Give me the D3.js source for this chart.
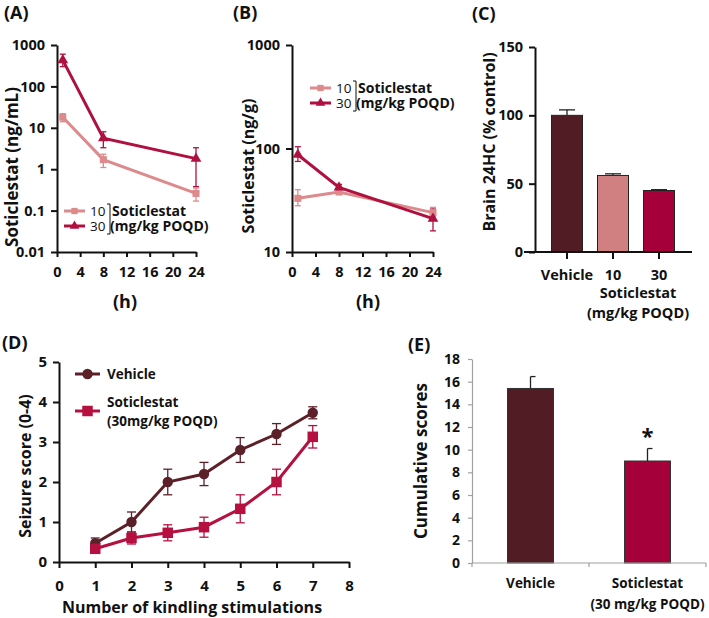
<!DOCTYPE html>
<html>
<head>
<meta charset="utf-8">
<script src="https://cdn.jsdelivr.net/npm/d3@7"></script>
<style>
body { margin: 0; background: #fff; }
text { font-family: "Open Sans", sans-serif; font-weight: bold; fill: #111; }
</style>
</head>
<body>
<svg id="fig" width="709" height="618"></svg>
<script>
// ---- data ----
var pkHours = [1, 8, 24];

// (A) plasma, ng/mL
var plasma10 = [18, 1.7, 0.26];
var plasma10Lo = [14, 1.1, 0.17];
var plasma10Hi = [22, 2.3, 0.35];
var plasma30 = [430, 5.6, 1.8];
var plasma30Lo = [300, 3.3, 0.38];
var plasma30Hi = [600, 8.0, 3.3];

// (B) brain, ng/g
var brain10 = [33, 38, 24];
var brain10Lo = [28, 36, 22];
var brain10Hi = [40, 40, 27];
var brain30 = [87, 42, 21];
var brain30Lo = [75, 40, 16];
var brain30Hi = [104, 45, 26];

// (C) brain 24HC
var hcGroups = ["Vehicle", "10", "30"];
var hcValues = [100, 56, 45];
var hcErr = [4, 1.2, 0.6];

// (D) kindling
var stimNumber = [1, 2, 3, 4, 5, 6, 7];
var vehScore = [0.47, 1.0, 2.0, 2.2, 2.8, 3.2, 3.73];
var vehErr = [0.13, 0.25, 0.32, 0.29, 0.31, 0.26, 0.15];
var sotScore = [0.33, 0.6, 0.73, 0.87, 1.33, 2.0, 3.13];
var sotErr = [0.1, 0.15, 0.2, 0.25, 0.35, 0.32, 0.28];

// (E) cumulative
var cumGroups = ["Vehicle", "Soticlestat"];
var cumValues = [15.4, 9.0];
var cumErr = [1.05, 1.1];

var logTicksA = [0.01, 0.1, 1, 10, 100, 1000];
var logTicksB = [10, 100, 1000];
var hourTicks = [0, 4, 8, 12, 16, 20, 24];

var colPink = "#dc8a8c";
var colRed = "#b0103f";
var colMaroon = "#521c24";
var colBarPink = "#d08080";
var colBarRed = "#a5003a";

var svg = d3.select("#fig");

function fmtLog(d) {
    return String(d);
}

function styleAxis(g, width, size, color) {
    g.select(".domain").attr("stroke", color).attr("stroke-width", width);
    g.selectAll(".tick line").attr("stroke", color).attr("stroke-width", width);
    g.selectAll(".tick text").attr("fill", "#111").style("font-size", size + "px")
        .attr("font-family", null);
}

function addText(x, y, str, size, opts) {
    opts = opts || {};
    var t = svg.append("text")
        .attr("x", x).attr("y", y)
        .attr("dy", "0.35em")
        .attr("text-anchor", opts.anchor || "start")
        .style("font-size", size + "px")
        .text(str);
    if (opts.rotate) {
        t.attr("transform", "rotate(-90," + x + "," + y + ")");
    }
    if (opts.normal) {
        t.style("font-weight", "normal");
    }
    return t;
}

function errorBars(g, xs, lo, hi, x, y, color, cap) {
    xs.forEach(function(xv, i) {
        var cx = x(xv);
        g.append("line").attr("x1", cx).attr("x2", cx)
            .attr("y1", y(lo[i])).attr("y2", y(hi[i]))
            .attr("stroke", color).attr("stroke-width", 1.3);
        [lo[i], hi[i]].forEach(function(v) {
            g.append("line").attr("x1", cx - cap).attr("x2", cx + cap)
                .attr("y1", y(v)).attr("y2", y(v))
                .attr("stroke", color).attr("stroke-width", 1.3);
        });
    });
}

function series(g, xs, vals, x, y, color, symbolType, symbolSize, lw) {
    var line = d3.line()
        .x(function(d, i) { return x(xs[i]); })
        .y(function(d) { return y(d); });
    g.append("path").datum(vals)
        .attr("d", line)
        .attr("fill", "none")
        .attr("stroke", color)
        .attr("stroke-width", lw);
    g.selectAll(null).data(vals).enter()
        .append("path")
        .attr("d", d3.symbol().type(symbolType).size(symbolSize))
        .attr("transform", function(d, i) {
            return "translate(" + x(xs[i]) + "," + y(d) + ")";
        })
        .attr("fill", color);
}

function legendRow(x0, x1, y, color, symbolType, symbolSize, lw) {
    svg.append("line").attr("x1", x0).attr("x2", x1)
        .attr("y1", y).attr("y2", y)
        .attr("stroke", color).attr("stroke-width", lw);
    svg.append("path")
        .attr("d", d3.symbol().type(symbolType).size(symbolSize))
        .attr("transform", "translate(" + (x0 + x1) / 2 + "," + y + ")")
        .attr("fill", color);
}

function doseLegend(x0, y0) {
    // two rows, dose numbers and bracket
    var dy = 15;
    legendRow(x0, x0 + 21, y0, colPink, d3.symbolSquare, 40, 3);
    legendRow(x0, x0 + 21, y0 + dy, colRed, d3.symbolTriangle, 40, 3);
    addText(x0 + 26, y0, "10", 13.5, {normal: true});
    addText(x0 + 26, y0 + dy, "30", 13.5, {normal: true});
    var bx = x0 + 43;
    svg.append("path")
        .attr("d", "M" + bx + "," + (y0 - 7) + "H" + (bx + 3) + "V" + (y0 + dy + 8) + "H" + bx)
        .attr("fill", "none").attr("stroke", "#111").attr("stroke-width", 1);
    addText(bx + 5, y0, "Soticlestat", 14);
    addText(bx + 3, y0 + dy, "(mg/kg POQD)", 14);
}

// ---- (A) ----
(function() {
    var x = d3.scaleLinear().domain([0, 24]).range([57, 196]);
    var y = d3.scaleLog().domain([0.01, 1000]).range([252, 45]);
    var g = svg.append("g");
    g.append("g").attr("transform", "translate(57,0)")
        .call(d3.axisLeft(y).tickValues(logTicksA).tickFormat(fmtLog)
            .tickSize(6).tickSizeOuter(0).tickPadding(6))
        .call(styleAxis, 2, 14.5, "#111");
    g.append("g").attr("transform", "translate(0,252)")
        .call(d3.axisBottom(x).tickValues(hourTicks).tickSize(5)
            .tickSizeOuter(0).tickPadding(10))
        .call(styleAxis, 2, 14.5, "#111");
    errorBars(g, pkHours, plasma10Lo, plasma10Hi, x, y, colPink, 3);
    errorBars(g, pkHours, plasma30Lo, plasma30Hi, x, y, colRed, 3);
    series(g, pkHours, plasma10, x, y, colPink, d3.symbolSquare, 50, 3);
    series(g, pkHours, plasma30, x, y, colRed, d3.symbolTriangle, 50, 3);
    doseLegend(64, 211);
    addText(4, 13, "(A)", 18);
    addText(12, 167, "Soticlestat (ng/mL)", 17, {rotate: true, anchor: "middle"});
    addText(125, 302, "(h)", 18, {anchor: "middle"});
})();

// ---- (B) ----
(function() {
    var x = d3.scaleLinear().domain([0, 24]).range([292, 433]);
    var y = d3.scaleLog().domain([10, 1000]).range([252, 45]);
    var g = svg.append("g");
    g.append("g").attr("transform", "translate(292,0)")
        .call(d3.axisLeft(y).tickValues(logTicksB).tickFormat(fmtLog)
            .tickSize(6).tickSizeOuter(0).tickPadding(6))
        .call(styleAxis, 2, 14.5, "#111");
    g.append("g").attr("transform", "translate(0,252)")
        .call(d3.axisBottom(x).tickValues(hourTicks).tickSize(5)
            .tickSizeOuter(0).tickPadding(10))
        .call(styleAxis, 2, 14.5, "#111");
    errorBars(g, pkHours, brain10Lo, brain10Hi, x, y, colPink, 3);
    errorBars(g, pkHours, brain30Lo, brain30Hi, x, y, colRed, 3);
    series(g, pkHours, brain10, x, y, colPink, d3.symbolSquare, 50, 3);
    series(g, pkHours, brain30, x, y, colRed, d3.symbolTriangle, 50, 3);
    doseLegend(310, 88);
    addText(233, 13, "(B)", 18);
    addText(248, 166, "Soticlestat (ng/g)", 16, {rotate: true, anchor: "middle"});
    addText(368, 302, "(h)", 18, {anchor: "middle"});
})();

// ---- (C) ----
(function() {
    var x = d3.scaleBand().domain(hcGroups).range([544, 682]);
    var y = d3.scaleLinear().domain([0, 150]).range([252, 47]);
    var g = svg.append("g");
    var barW = 31;
    var colors = [colMaroon, colBarPink, colBarRed];
    g.selectAll(null).data(hcValues).enter().append("rect")
        .attr("x", function(d, i) { return x(hcGroups[i]) + x.bandwidth() / 2 - barW / 2; })
        .attr("y", function(d) { return y(d); })
        .attr("width", barW)
        .attr("height", function(d) { return y(0) - y(d); })
        .attr("fill", function(d, i) { return colors[i]; })
        .attr("stroke", "#222").attr("stroke-width", 1);
    hcValues.forEach(function(v, i) {
        var cx = x(hcGroups[i]) + x.bandwidth() / 2;
        g.append("line").attr("x1", cx).attr("x2", cx)
            .attr("y1", y(v)).attr("y2", y(v + hcErr[i]))
            .attr("stroke", "#222").attr("stroke-width", 1.3);
        g.append("line").attr("x1", cx - 8).attr("x2", cx + 8)
            .attr("y1", y(v + hcErr[i])).attr("y2", y(v + hcErr[i]))
            .attr("stroke", "#222").attr("stroke-width", 1.3);
    });
    g.append("g").attr("transform", "translate(535,0)")
        .call(d3.axisLeft(y).tickValues([0, 50, 100, 150]).tickSize(6)
            .tickSizeOuter(0).tickPadding(6))
        .call(styleAxis, 2, 14.5, "#111");
    g.append("line").attr("x1", 524).attr("x2", 692)
        .attr("y1", 252).attr("y2", 252)
        .attr("stroke", "#111").attr("stroke-width", 2);
    hcGroups.forEach(function(c) {
        var cx = x(c) + x.bandwidth() / 2;
        g.append("line").attr("x1", cx).attr("x2", cx)
            .attr("y1", 252).attr("y2", 259)
            .attr("stroke", "#111").attr("stroke-width", 2);
        addText(cx, 275, c, 14.5, {anchor: "middle"});
    });
    addText(638, 293, "Soticlestat", 14.5, {anchor: "middle"});
    addText(638, 313, "(mg/kg POQD)", 14.5, {anchor: "middle"});
    addText(472, 14, "(C)", 18);
    addText(489, 142, "Brain 24HC (% control)", 16, {rotate: true, anchor: "middle"});
})();

// ---- (D) ----
(function() {
    var x = d3.scaleLinear().domain([0, 8]).range([59, 349]);
    var y = d3.scaleLinear().domain([0, 5]).range([562, 362]);
    var g = svg.append("g");
    g.append("g").attr("transform", "translate(59,0)")
        .call(d3.axisLeft(y).ticks(5).tickSize(6).tickSizeOuter(0).tickPadding(6))
        .call(styleAxis, 2, 15, "#111");
    g.append("g").attr("transform", "translate(0,562)")
        .call(d3.axisBottom(x).ticks(8).tickSize(6).tickSizeOuter(0).tickPadding(12))
        .call(styleAxis, 2, 15, "#111");
    var vLo = vehScore.map(function(v, i) { return v - vehErr[i]; });
    var vHi = vehScore.map(function(v, i) { return v + vehErr[i]; });
    var sLo = sotScore.map(function(v, i) { return v - sotErr[i]; });
    var sHi = sotScore.map(function(v, i) { return v + sotErr[i]; });
    errorBars(g, stimNumber, vLo, vHi, x, y, "#5c2029", 4.5);
    errorBars(g, stimNumber, sLo, sHi, x, y, "#b5103f", 4.5);
    series(g, stimNumber, vehScore, x, y, "#5c2029", d3.symbolCircle, 85, 3);
    series(g, stimNumber, sotScore, x, y, "#b5103f", d3.symbolSquare, 110, 3);
    legendRow(75, 100, 374, "#5c2029", d3.symbolCircle, 85, 3);
    legendRow(75, 100, 411, "#b5103f", d3.symbolSquare, 110, 3);
    addText(107, 374, "Vehicle", 13.5);
    addText(107, 402, "Soticlestat", 13.5);
    addText(107, 421, "(30mg/kg POQD)", 13.5);
    addText(2, 343, "(D)", 18);
    addText(25, 466, "Seizure score (0-4)", 16, {rotate: true, anchor: "middle"});
    addText(192, 607, "Number of kindling stimulations", 16, {anchor: "middle"});
})();

// ---- (E) ----
(function() {
    var x = d3.scaleBand().domain(cumGroups).range([472, 706]);
    var y = d3.scaleLinear().domain([0, 18]).range([563, 359]);
    var g = svg.append("g");
    var barW = 46;
    var colors = [colMaroon, colBarRed];
    g.selectAll(null).data(cumValues).enter().append("rect")
        .attr("x", function(d, i) { return x(cumGroups[i]) + x.bandwidth() / 2 - barW / 2; })
        .attr("y", function(d) { return y(d); })
        .attr("width", barW)
        .attr("height", function(d) { return y(0) - y(d); })
        .attr("fill", function(d, i) { return colors[i]; })
        .attr("stroke", "#333").attr("stroke-width", 1);
    cumValues.forEach(function(v, i) {
        var cx = x(cumGroups[i]) + x.bandwidth() / 2;
        g.append("line").attr("x1", cx).attr("x2", cx)
            .attr("y1", y(v)).attr("y2", y(v + cumErr[i]))
            .attr("stroke", "#222").attr("stroke-width", 1.3);
        g.append("line").attr("x1", cx).attr("x2", cx + 5)
            .attr("y1", y(v + cumErr[i])).attr("y2", y(v + cumErr[i]))
            .attr("stroke", "#222").attr("stroke-width", 1.3);
    });
    g.append("g").attr("transform", "translate(472,0)")
        .call(d3.axisLeft(y).tickValues(d3.range(0, 19, 2)).tickSize(4)
            .tickSizeOuter(0).tickPadding(8))
        .call(styleAxis, 1.2, 14, "#a0a0a0");
    g.append("line").attr("x1", 472).attr("x2", 706)
        .attr("y1", 563).attr("y2", 563)
        .attr("stroke", "#a0a0a0").attr("stroke-width", 1.2);
    [472, 589, 706].forEach(function(tx) {
        g.append("line").attr("x1", tx).attr("x2", tx)
            .attr("y1", 563).attr("y2", 567)
            .attr("stroke", "#a0a0a0").attr("stroke-width", 1.2);
    });
    var cx0 = x(cumGroups[0]) + x.bandwidth() / 2;
    var cx1 = x(cumGroups[1]) + x.bandwidth() / 2;
    addText(cx0, 583, "Vehicle", 13.5, {anchor: "middle"});
    addText(cx1, 583, "Soticlestat", 13.5, {anchor: "middle"});
    addText(cx1, 604, "(30 mg/kg POQD)", 13.5, {anchor: "middle"});
    addText(cx1, 436, "*", 22, {anchor: "middle"});
    addText(408, 345, "(E)", 18);
    addText(421, 461, "Cumulative scores", 17, {rotate: true, anchor: "middle"});
})();
</script>
</body>
</html>
